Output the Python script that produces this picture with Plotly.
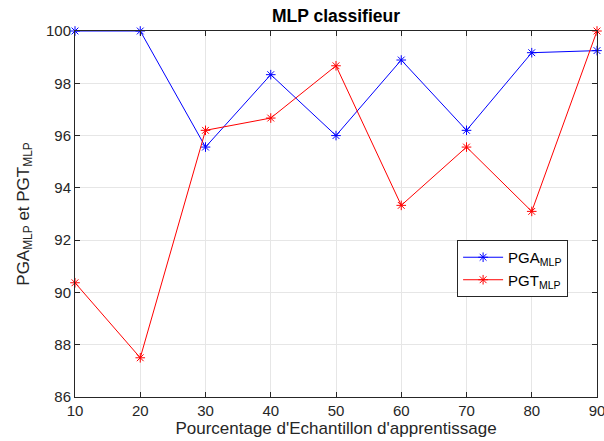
import plotly.graph_objects as go

x_pct = [10, 20, 30, 40, 50, 60, 70, 80, 90]
pga_mlp = [100, 100, 95.56, 98.33, 96.0, 98.89, 96.2, 99.17, 99.25]
pgt_mlp = [90.37, 87.5, 96.2, 96.67, 98.67, 93.33, 95.56, 93.1, 100]
x_ticks = [10, 20, 30, 40, 50, 60, 70, 80, 90]
y_ticks = [86, 88, 90, 92, 94, 96, 98, 100]

font = "Liberation Sans, Arial, sans-serif"

fig = go.Figure()
fig.add_trace(go.Scatter(x=x_pct, y=pga_mlp, mode="lines+markers",
                         name="PGA<sub>MLP</sub>", cliponaxis=False,
                         line=dict(color="#0000ff", width=1),
                         marker=dict(symbol="asterisk-open", size=8,
                                     line=dict(color="#0000ff", width=1))))
fig.add_trace(go.Scatter(x=x_pct, y=pgt_mlp, mode="lines+markers",
                         name="PGT<sub>MLP</sub>", cliponaxis=False,
                         line=dict(color="#ff0000", width=1),
                         marker=dict(symbol="asterisk-open", size=8,
                                     line=dict(color="#ff0000", width=1))))

axis_common = dict(showline=True, linecolor="#262626", linewidth=1, mirror="ticks",
                   ticks="inside", ticklen=5, tickcolor="#262626",
                   showgrid=True, gridcolor="#e6e6e6", gridwidth=1, zeroline=False,
                   automargin=False, ticklabeloverflow="allow",
                   tickfont=dict(family=font, size=15, color="#262626"))

fig.update_layout(
    width=604, height=441,
    margin=dict(l=75, r=7, t=31, b=44),
    paper_bgcolor="white", plot_bgcolor="white",
    title=dict(text="<b>MLP classifieur</b>", x=0.5 * (75 + 597) / 604, xanchor="center",
               y=1 - 16 / 441, yanchor="middle",
               font=dict(family=font, size=17.5, color="black")),
    xaxis=dict(range=[10, 90], tickvals=x_ticks,
               title=dict(text="Pourcentage d'Echantillon d'apprentissage",
                          font=dict(family=font, size=17, color="#262626"), standoff=4),
               **axis_common),
    yaxis=dict(range=[86, 100], tickvals=y_ticks,
               title=dict(text="PGA<sub>MLP</sub> et PGT<sub>MLP</sub>",
                          font=dict(family=font, size=17, color="#262626"), standoff=12),
               **axis_common),
    legend=dict(x=0.732, y=0.429, xanchor="left", yanchor="top",
                bgcolor="white", bordercolor="#262626", borderwidth=1,
                font=dict(family=font, size=15, color="black"),
                itemwidth=40, tracegroupgap=2),
    showlegend=True,
)

fig.write_html("out.html")
